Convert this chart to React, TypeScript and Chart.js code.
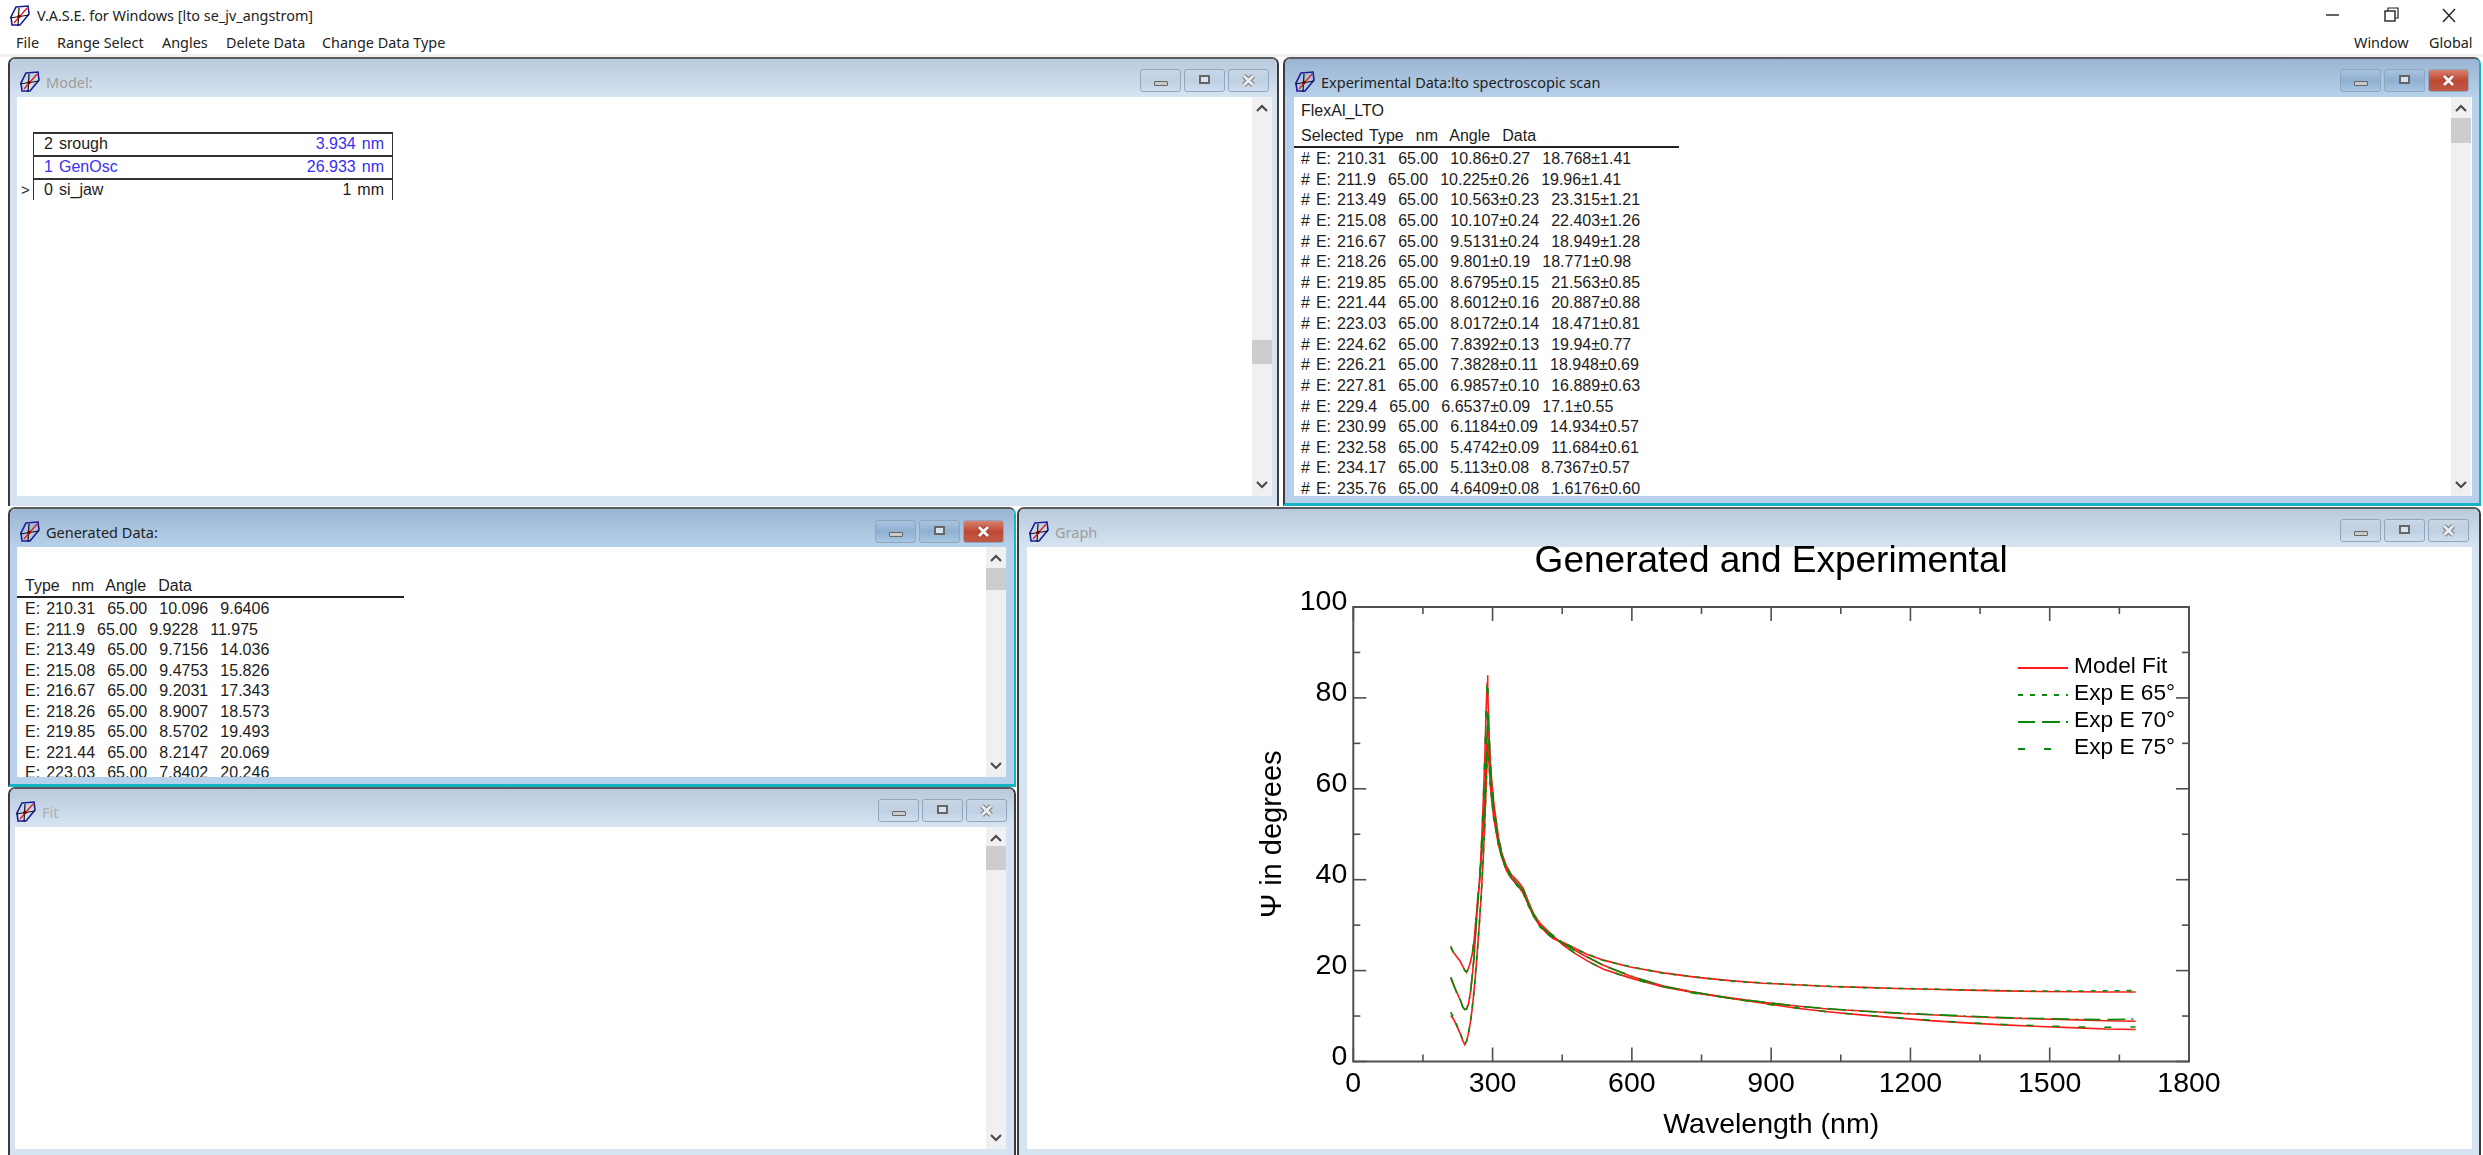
import React, { useEffect, useRef } from "react";
import { Chart, registerables } from "chart.js";

Chart.register(...registerables);

// ---------- chart data ----------
const wavelengths = [210,216,223,230,236,240,244,248,252,256,260,264,268,272,276,280,283,286,288,289,290,292,295,298,302,307,313,320,330,341,355,366,377,388,402,417,431,452,474,503,539,596,668,740,811,883,955,1027,1099,1170,1242,1320,1400,1480,1560,1620,1685];
const model65 = [10.1,9.3,7.8,6.2,4.6,3.7,4.5,6.2,8.5,11.5,15.5,20,25.5,31,37.5,45,52,60,66,69,70,66,61,57.5,54,50.8,47.5,44.8,42,40.2,38.6,37,34.5,32,29.8,28.2,27,26.2,25.1,23.6,22.3,20.8,19.5,18.5,17.8,17.2,16.9,16.5,16.3,16.05,15.9,15.7,15.55,15.4,15.35,15.3,15.3];
const exp65 = [10.86,9.6,8.02,6.3,4.64,3.8,4.4,6.3,8.4,11.7,15.3,20.3,25.2,31.3,37.2,45.3,51.6,60.4,65.6,69.4,69.7,66.4,60.6,57.9,53.7,51.1,47.3,45,41.8,40.3,38.4,37.1,34.3,32.1,29.6,28.3,26.9,26.3,25,23.7,22.2,20.9,19.4,18.6,17.7,17.3,16.85,16.55,16.25,16.1,15.95,15.75,15.6,15.5,15.5,15.55,15.6];
const model70 = [18.3,16.8,15.2,13.6,12,11.4,11.6,12.6,15,18.5,23,29,35,40,45.5,52,58,66,72,75.5,77,72,65,60,55.5,51.8,48.2,45.2,42.3,40.5,39,37.5,34.8,32.2,30,28.5,27.3,25.9,24.7,23,21.2,18.8,16.6,15.1,14,13,12.2,11.5,11.1,10.6,10.3,9.9,9.6,9.35,9.15,8.95,8.85];
const exp70 = [18.6,17,15,13.8,11.9,11.5,11.5,12.8,14.8,18.7,22.8,29.3,34.7,40.3,45.2,52.3,57.6,66.3,71.6,75.9,76.7,72.4,64.6,60.3,55.2,52,48,45.4,42.1,40.6,38.8,37.6,34.6,32.3,29.8,28.6,27.2,26,24.6,23.1,21.1,18.9,16.5,15.2,13.9,13.1,12.15,11.6,11.05,10.7,10.35,10,9.65,9.45,9.3,9.2,9.35];
const model75 = [25,24,23,22.1,20.9,20.1,19.6,20.5,21.8,23.6,26.5,31,35.8,39.5,47.5,57.5,66,77,82.5,85,82,73,66,62,57.5,53.5,49.2,45.8,42.9,41,39.6,38.1,35.2,32.6,30.4,28.9,27.6,25.6,24,22.2,20.3,18.4,16.4,15,13.9,12.8,11.7,10.9,10.2,9.6,9,8.5,8.05,7.7,7.4,7.15,7.05];
const exp75 = [25.4,23.8,23.2,21.9,21,20,19.8,20.3,22,23.4,26.7,30.7,36.1,39.2,47.8,57.2,66.3,76.6,82.9,84.6,82.4,72.6,66.3,61.7,57.8,53.2,49.4,45.6,43.1,40.8,39.7,37.9,35.3,32.4,30.5,28.7,27.7,25.5,24.1,22.1,20.4,18.3,16.5,14.9,14,12.7,11.8,10.85,10.25,9.65,9.1,8.55,8.15,7.85,7.6,7.5,7.6];

const xMajorTicks = [0,300,600,900,1200,1500,1800];
const xMinorTicks = [150,450,750,1050,1350,1650];
const yMajorTicks = [0,20,40,60,80,100];
const yMinorTicks = [10,30,50,70,90];

const chartTitle = "Generated and Experimental";
const xTitle = "Wavelength (nm)";
const yTitle = "Ψ in degrees";
const legendLabels = ["Model Fit", "Exp E 65°", "Exp E 70°", "Exp E 75°"];

// ---------- window text ----------
const appTitle = "V.A.S.E. for Windows [lto se_jv_angstrom]";
const menuLabels = ["File", "Range Select", "Angles", "Delete Data", "Change Data Type"];
const menuX = [16, 57, 162, 226, 322];
const modelLayers = [
  ["2 srough", "3.934 nm"],
  ["1 GenOsc", "26.933 nm"],
  ["0 si_jaw", "1 mm"],
];
const expRows = [
  "# E: 210.31  65.00  10.86±0.27  18.768±1.41",
  "# E: 211.9  65.00  10.225±0.26  19.96±1.41",
  "# E: 213.49  65.00  10.563±0.23  23.315±1.21",
  "# E: 215.08  65.00  10.107±0.24  22.403±1.26",
  "# E: 216.67  65.00  9.5131±0.24  18.949±1.28",
  "# E: 218.26  65.00  9.801±0.19  18.771±0.98",
  "# E: 219.85  65.00  8.6795±0.15  21.563±0.85",
  "# E: 221.44  65.00  8.6012±0.16  20.887±0.88",
  "# E: 223.03  65.00  8.0172±0.14  18.471±0.81",
  "# E: 224.62  65.00  7.8392±0.13  19.94±0.77",
  "# E: 226.21  65.00  7.3828±0.11  18.948±0.69",
  "# E: 227.81  65.00  6.9857±0.10  16.889±0.63",
  "# E: 229.4  65.00  6.6537±0.09  17.1±0.55",
  "# E: 230.99  65.00  6.1184±0.09  14.934±0.57",
  "# E: 232.58  65.00  5.4742±0.09  11.684±0.61",
  "# E: 234.17  65.00  5.113±0.08  8.7367±0.57",
  "# E: 235.76  65.00  4.6409±0.08  1.6176±0.60",
];
const genRows = [
  "E: 210.31  65.00  10.096  9.6406",
  "E: 211.9  65.00  9.9228  11.975",
  "E: 213.49  65.00  9.7156  14.036",
  "E: 215.08  65.00  9.4753  15.826",
  "E: 216.67  65.00  9.2031  17.343",
  "E: 218.26  65.00  8.9007  18.573",
  "E: 219.85  65.00  8.5702  19.493",
  "E: 221.44  65.00  8.2147  20.069",
  "E: 223.03  65.00  7.8402  20.246",
];

// ---------- styles ----------
const UI_FONT = "'Noto Sans', sans-serif";
const DATA_FONT = "'Liberation Sans', Arial, sans-serif";
const RED = "#ff1a1a";
const GREEN = "#0a8a0a";

function abs(x: number, y: number, w: number, h: number): React.CSSProperties {
  return { position: "absolute", left: x, top: y, width: w, height: h };
}

function Txt({ x, y, children, size = 16, color = "#1c1c1c", font = DATA_FONT, right }: any) {
  const style: React.CSSProperties = {
    position: "absolute",
    top: y - 12,
    height: 24,
    lineHeight: "24px",
    fontFamily: font,
    fontSize: size,
    color,
    whiteSpace: "pre",
    wordSpacing: font === DATA_FONT ? 1.6 : 0,
  };
  if (right !== undefined) style.right = right;
  else style.left = x;
  return <div style={style}>{children}</div>;
}

function Icon({ x, y }: { x: number; y: number }) {
  return (
    <svg style={{ position: "absolute", left: x, top: y }} width={22} height={24} viewBox="0 0 22 24">
      <polygon points="7,3 19,2 20,10 11,21 3,21 2,13" fill="none" stroke="#1b1b9a" strokeWidth={1.6} />
      <line x1="1" y1="14" x2="20" y2="11" stroke="#111" strokeWidth={1.2} />
      <line x1="10" y1="4" x2="9" y2="22" stroke="#111" strokeWidth={1.2} />
      <line x1="5" y1="19" x2="18" y2="4" stroke="#e02020" strokeWidth={1.4} />
      <circle cx="10" cy="12.5" r="1.8" fill="#7a0000" />
    </svg>
  );
}

function Buttons({ x, y, active }: { x: number; y: number; active?: boolean }) {
  const base = active ? "linear-gradient(#a9c3de,#8fb0d2 50%,#a8c6e2)" : "linear-gradient(#c9d7e6,#bfd0e2 50%,#cfdeee)";
  const closeBg = active ? "linear-gradient(#d9806e,#bd4a35 50%,#c05a45)" : base;
  const btn = (bx: number, w: number, bg: string, child: React.ReactNode) => (
    <div style={{ ...abs(bx, y, w, 23), background: bg, border: "1px solid #8ea6be", borderRadius: 3, boxSizing: "border-box" }}>{child}</div>
  );
  return (
    <>
      {btn(x, 41, base, <div style={{ ...abs(13, 11, 14, 5), background: "#c9c9c9", border: "1px solid #666", boxSizing: "border-box", borderRadius: 1 }} />)}
      {btn(x + 44, 41, base, <div style={{ ...abs(14, 5, 11, 9), background: "#d6e2ee", border: "2px solid #666", boxSizing: "border-box" }} />)}
      {btn(
        x + 88,
        41,
        closeBg,
        <svg style={{ position: "absolute", left: 12, top: 4 }} width={15} height={13}>
          <path d="M3 2 L12 11 M12 2 L3 11" stroke={active ? "#9a3a2a" : "#777"} strokeWidth={5} />
          <path d="M3 2 L12 11 M12 2 L3 11" stroke={active ? "#f6f6f6" : "#e8ecf0"} strokeWidth={3} />
        </svg>
      )}
    </>
  );
}

function Scrollbar({ x, top, bottom, thumbTop, thumbH }: any) {
  const chev = (cy: number, up: boolean) => (
    <svg style={{ position: "absolute", left: x + 4, top: cy - 5 }} width={12} height={10}>
      <path d={up ? "M1 8 L6 3 L11 8" : "M1 2 L6 7 L11 2"} stroke="#4a4a4a" strokeWidth={2.2} fill="none" />
    </svg>
  );
  return (
    <>
      <div style={{ ...abs(x, top, 20, bottom - top), background: "#f0f0f0" }} />
      <div style={{ ...abs(x, thumbTop, 20, thumbH), background: "#cdcdcd" }} />
      {chev(top + 11, true)}
      {chev(bottom - 11, false)}
    </>
  );
}

function Win({ x, y, w, h, active, title, titleColor, iconX, content }: any) {
  const titleBg = active ? "linear-gradient(#9ab5d3,#b8d1ea)" : "linear-gradient(#b9cadb,#d6e4f2)";
  const side = active ? "#b8d1ea" : "#d6e4f2";
  return (
    <>
      <div
        style={{
          ...abs(x, y, w, h),
          boxSizing: "border-box",
          background: side,
          borderTop: "2px solid #5a5a5a",
          borderLeft: "2px solid #3c3c3c",
          borderRight: active ? "2px solid #14b4c4" : "2px solid #3c3c3c",
          borderBottom: active ? "3px solid #14b4c4" : "none",
          borderTopLeftRadius: 7,
          borderTopRightRadius: 7,
        }}
      />
      <div style={{ ...abs(x + 2, y + 2, w - 4, 38), background: titleBg, borderTopLeftRadius: 6, borderTopRightRadius: 6 }} />
      <Icon x={x + (iconX ?? 11)} y={y + 13} />
      <Txt x={x + (iconX ?? 11) + 27} y={y + 25} size={14.5} color={titleColor} font={UI_FONT}>
        {title}
      </Txt>
      <div style={{ ...abs(content[0], content[1], content[2] - content[0], content[3] - content[1]), background: "#fff" }} />
    </>
  );
}

// ---------- chart plugins ----------
const frameAndTicks = {
  id: "frameAndTicks",
  beforeDatasetsDraw(chart: any) {
    const { ctx, chartArea: a, scales } = chart;
    ctx.save();
    ctx.strokeStyle = "#505050";
    ctx.lineWidth = 2;
    ctx.strokeRect(a.left, a.top, a.right - a.left, a.bottom - a.top);
    ctx.lineWidth = 1.6;
    const seg = (x1: number, y1: number, x2: number, y2: number) => {
      ctx.beginPath();
      ctx.moveTo(x1, y1);
      ctx.lineTo(x2, y2);
      ctx.stroke();
    };
    const doX = (vals: number[], len: number) =>
      vals.forEach((v) => {
        const p = scales.x.getPixelForValue(v);
        seg(p, a.bottom, p, a.bottom - len);
        seg(p, a.top, p, a.top + len);
      });
    const doY = (vals: number[], len: number) =>
      vals.forEach((v) => {
        const p = scales.y.getPixelForValue(v);
        seg(a.left, p, a.left + len, p);
        seg(a.right, p, a.right - len, p);
      });
    doX(xMajorTicks, 14);
    doX(xMinorTicks, 7);
    doY(yMajorTicks, 13);
    doY(yMinorTicks, 7);
    ctx.restore();
  },
};

const lineLegend = {
  id: "lineLegend",
  afterDraw(chart: any) {
    const { ctx, chartArea: a } = chart;
    const ds = chart.data.datasets;
    const sources = [ds[0], ds[3], ds[4], ds[5]];
    const x0 = a.right - 171;
    const y0 = a.top + 61;
    ctx.save();
    sources.forEach((d: any, i: number) => {
      const y = y0 + i * 27;
      ctx.beginPath();
      ctx.strokeStyle = d.borderColor;
      ctx.lineWidth = 2;
      ctx.setLineDash(d.borderDash || []);
      ctx.moveTo(x0, y);
      ctx.lineTo(x0 + 50, y);
      ctx.stroke();
      ctx.setLineDash([]);
      ctx.fillStyle = "#000";
      ctx.font = "22.7px 'Liberation Sans', Arial, sans-serif";
      ctx.textBaseline = "middle";
      ctx.fillText(legendLabels[i], x0 + 56, y - 1);
    });
    ctx.restore();
  },
};

function pts(values: number[]) {
  return wavelengths.map((w, i) => ({ x: w, y: values[i] }));
}

function GraphChart() {
  const ref = useRef<HTMLCanvasElement | null>(null);
  useEffect(() => {
    if (!ref.current) return;
    const line = (label: string, values: number[], color: string, order: number, dash?: number[]) => ({
      label,
      data: pts(values),
      borderColor: color,
      borderWidth: 1.6,
      borderDash: dash,
      pointRadius: 0,
      tension: 0,
      fill: false,
      order,
    });
    const chart = new Chart(ref.current, {
      type: "line",
      data: {
        datasets: [
          line(legendLabels[0], model65, RED, 2),
          line(legendLabels[0], model70, RED, 2),
          line(legendLabels[0], model75, RED, 2),
          line(legendLabels[1], exp65, GREEN, 1, [5, 7]),
          line(legendLabels[2], exp70, GREEN, 1, [17, 7, 18, 6, 2, 6]),
          line(legendLabels[3], exp75, GREEN, 1, [7, 19]),
        ],
      },
      plugins: [frameAndTicks, lineLegend],
      options: {
        animation: false,
        responsive: false,
        devicePixelRatio: 1,
        layout: { padding: { left: 231, right: 283, top: 13, bottom: 0 } },
        plugins: {
          legend: { display: false },
          tooltip: { enabled: false },
          title: {
            display: true,
            text: chartTitle,
            color: "#000",
            fullSize: false,
            font: { family: "'Liberation Sans', Arial, sans-serif", size: 37, weight: "normal", lineHeight: 1 },
            padding: { top: 0, bottom: 27 },
          },
        },
        scales: {
          x: {
            type: "linear",
            min: 0,
            max: 1800,
            grid: { display: false, drawTicks: false },
            border: { display: false },
            afterFit: (s: any) => {
              s.height = 87.5;
            },
            ticks: {
              stepSize: 300,
              padding: 8,
              maxRotation: 0,
              autoSkip: false,
              color: "#000",
              callback: (v: any) => String(v),
              font: { family: "'Liberation Sans', Arial, sans-serif", size: 28.5, lineHeight: 1 },
            },
            title: {
              display: true,
              text: xTitle,
              color: "#000",
              padding: { top: 0, bottom: 10 },
              font: { family: "'Liberation Sans', Arial, sans-serif", size: 28.5, lineHeight: 1 },
            },
          },
          y: {
            type: "linear",
            min: 0,
            max: 100,
            grid: { display: false, drawTicks: false },
            border: { display: false },
            afterFit: (s: any) => {
              s.width = 95.3;
            },
            ticks: {
              stepSize: 20,
              padding: 6,
              labelOffset: -4.5,
              color: "#000",
              callback: (v: any) => String(v),
              font: { family: "'Liberation Sans', Arial, sans-serif", size: 28.5, lineHeight: 1 },
            },
            title: {
              display: true,
              text: yTitle,
              color: "#000",
              padding: { top: 0, bottom: 0 },
              font: { family: "'Liberation Sans', Arial, sans-serif", size: 29, lineHeight: 1 },
            },
          },
        },
      },
    } as any);
    return () => chart.destroy();
  }, []);
  return <canvas ref={ref} width={1445} height={619} style={{ position: "absolute", left: 1027, top: 530, width: 1445, height: 619 }} />;
}

export default function App() {
  return (
    <div style={{ position: "fixed", left: 0, top: 0, width: 2483, height: 1155, overflow: "hidden", background: "#fff" }}>
      {/* application caption and menu */}
      <Icon x={9} y={4} />
      <Txt x={37} y={16} size={14.4} color="#222" font={UI_FONT}>{appTitle}</Txt>
      {menuLabels.map((m, i) => (
        <Txt key={m} x={menuX[i]} y={43} size={14.4} color="#222" font={UI_FONT}>{m}</Txt>
      ))}
      <svg style={{ position: "absolute", left: 2320, top: 4 }} width={150} height={22}>
        <line x1="6" y1="11" x2="19" y2="11" stroke="#222" strokeWidth={1.4} />
        <rect x="65" y="7" width="10" height="10" fill="none" stroke="#222" strokeWidth={1.4} />
        <path d="M68 7 V4 H78 V14 H75" fill="none" stroke="#222" strokeWidth={1.2} />
        <path d="M123 5 L135 18 M135 5 L123 18" stroke="#222" strokeWidth={1.4} />
      </svg>
      <Txt x={2354} y={43} size={14.4} color="#222" font={UI_FONT}>Window</Txt>
      <Txt x={2429} y={43} size={14.4} color="#222" font={UI_FONT}>Global</Txt>
      <div style={{ ...abs(0, 54, 2483, 3), background: "#f0f0f0" }} />

      {/* Model */}
      <Win x={8} y={57} w={1271} h={449} title="Model:" titleColor="#9c9c9c" content={[17, 97, 1272, 496]} />
      <Buttons x={1140} y={69} />
      <Scrollbar x={1252} top={97} bottom={496} thumbTop={340} thumbH={24} />
      <div style={{ ...abs(33, 132, 360, 2), background: "#333" }} />
      <div style={{ ...abs(33, 155, 360, 2), background: "#333" }} />
      <div style={{ ...abs(33, 178, 360, 2), background: "#333" }} />
      <div style={{ ...abs(33, 132, 1, 68), background: "#333" }} />
      <div style={{ ...abs(392, 132, 1, 68), background: "#333" }} />
      {modelLayers.map((r, i) => {
        const color = i === 2 ? "#1c1c1c" : "#3a2ff0";
        return (
          <React.Fragment key={r[0]}>
            <Txt x={44} y={144 + i * 23} color={i === 1 ? "#3a2ff0" : "#1c1c1c"}>{r[0]}</Txt>
            <Txt right={2483 - 384} y={144 + i * 23} color={color}>{r[1]}</Txt>
          </React.Fragment>
        );
      })}
      <Txt x={21} y={190} size={15}>{">"}</Txt>

      {/* Experimental data */}
      <Win x={1283} y={57} w={1198} h={449} active title="Experimental Data:lto spectroscopic scan" titleColor="#222" content={[1294, 97, 2472, 496]} />
      <Buttons x={2340} y={69} active />
      <Scrollbar x={2451} top={97} bottom={496} thumbTop={118} thumbH={25} />
      <Txt x={1301} y={111}>FlexAl_LTO</Txt>
      <Txt x={1301} y={136}>{"Selected Type  nm  Angle  Data"}</Txt>
      <div style={{ ...abs(1294, 146, 385, 2), background: "#222" }} />
      {expRows.map((r, i) => (
        <Txt key={r} x={1301} y={159 + i * 20.625}>{r}</Txt>
      ))}

      {/* Generated data */}
      <Win x={8} y={507} w={1008} h={280} active title="Generated Data:" titleColor="#222" content={[17, 547, 1006, 777]} />
      <Buttons x={875} y={520} active />
      <div style={{ ...abs(17, 547, 989, 230), overflow: "hidden" }}>
        <Txt x={8} y={39}>{"Type  nm  Angle  Data"}</Txt>
        <div style={{ ...abs(0, 49, 387, 2), background: "#222" }} />
        {genRows.map((r, i) => (
          <Txt key={r} x={8} y={62 + i * 20.55}>{r}</Txt>
        ))}
      </div>
      <Scrollbar x={986} top={547} bottom={777} thumbTop={568} thumbH={22} />

      {/* Fit */}
      <Win x={8} y={787} w={1008} h={368} title="Fit" titleColor="#b0b0b0" iconX={7} content={[15, 827, 1006, 1149]} />
      <Buttons x={878} y={799} />
      <Scrollbar x={986} top={827} bottom={1149} thumbTop={846} thumbH={24} />

      {/* Graph */}
      <Win x={1017} y={507} w={1464} h={648} title="Graph" titleColor="#9c9c9c" iconX={11} content={[1027, 547, 2472, 1149]} />
      <Buttons x={2340} y={519} />
      <GraphChart />
    </div>
  );
}
